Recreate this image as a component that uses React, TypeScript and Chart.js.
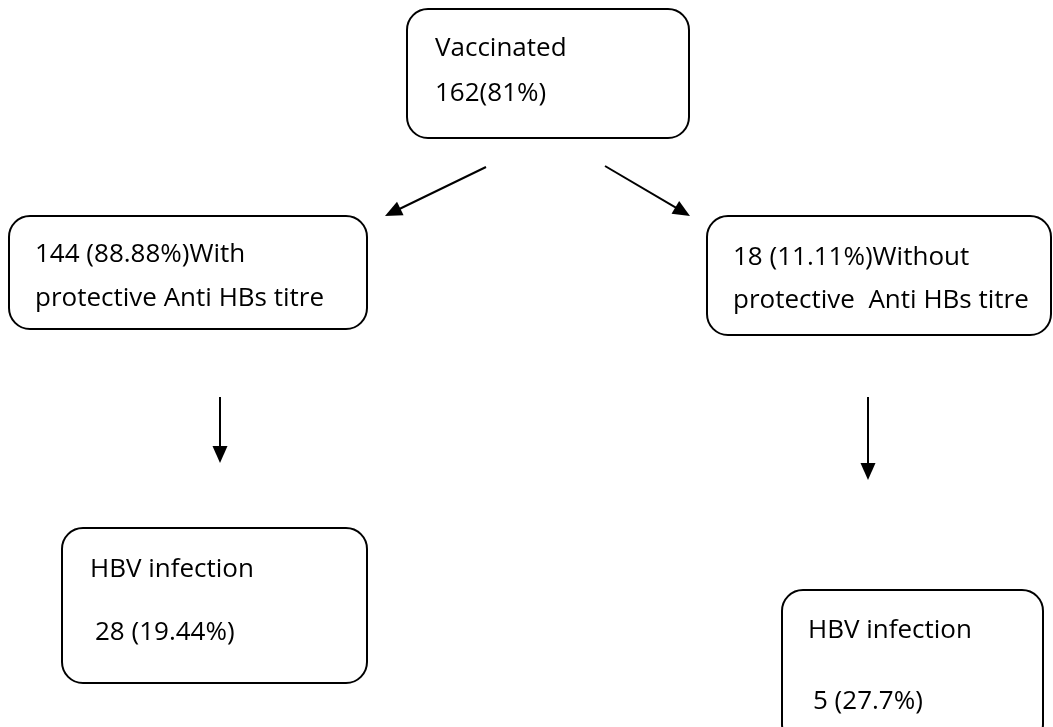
import React, { useEffect, useRef } from "react";
import { Chart, registerables } from "chart.js";

Chart.register(...registerables);

// Flowchart nodes (coordinates in the chart's own x/y units)
const nodeNames = ["vaccinated", "with", "without", "hbvWith", "hbvWithout"];
const nodeLeft = [407, 9, 707, 62, 782];
const nodeTop = [9, 216, 216, 528, 590];
const nodeRight = [689, 367, 1051, 367, 1043];
const nodeBottom = [138, 329, 335, 683, 745];

// Text lines: [x, baseline y, text]
const labelX = [435, 435, 35, 35, 733, 733, 90, 95, 808, 813];
const labelY = [56, 101, 262, 306, 265, 308, 577, 640, 638, 709];
const labelText = [
  "Vaccinated",
  "162(81%)",
  "144 (88.88%)With",
  "protective Anti HBs titre",
  "18 (11.11%)Without",
  "protective  Anti HBs titre",
  "HBV infection",
  "28 (19.44%)",
  "HBV infection",
  "5 (27.7%)",
];

// Arrows: from (x0,y0) to tip (x1,y1)
const arrowX0 = [486, 605, 220, 868];
const arrowY0 = [167, 166, 397, 397];
const arrowX1 = [385, 690, 220, 868];
const arrowY1 = [216, 216, 463, 480];

const FONT = "26px 'Open Sans', 'Noto Sans', sans-serif";

const flowPlugin = {
  id: "flow",
  afterDatasetsDraw(chart: any) {
    const ctx = chart.ctx;
    const xs = chart.scales.x;
    const ys = chart.scales.y;
    ctx.save();
    // boxes
    ctx.strokeStyle = "#000";
    ctx.lineWidth = 2;
    for (let i = 0; i < nodeNames.length; i++) {
      const l = xs.getPixelForValue(nodeLeft[i]);
      const r = xs.getPixelForValue(nodeRight[i]);
      const t = ys.getPixelForValue(nodeTop[i]);
      const b = ys.getPixelForValue(nodeBottom[i]);
      ctx.beginPath();
      ctx.roundRect(l, t, r - l, b - t, 21);
      ctx.stroke();
    }
    // text
    ctx.fillStyle = "#000";
    ctx.font = FONT;
    ctx.textBaseline = "alphabetic";
    ctx.textAlign = "left";
    for (let i = 0; i < labelText.length; i++) {
      ctx.fillText(labelText[i], xs.getPixelForValue(labelX[i]), ys.getPixelForValue(labelY[i]));
    }
    // arrowheads
    for (let i = 0; i < arrowX0.length; i++) {
      const x0 = xs.getPixelForValue(arrowX0[i]);
      const y0 = ys.getPixelForValue(arrowY0[i]);
      const x1 = xs.getPixelForValue(arrowX1[i]);
      const y1 = ys.getPixelForValue(arrowY1[i]);
      const ang = Math.atan2(y1 - y0, x1 - x0);
      const len = 17;
      const half = 7.5;
      const bx = x1 - len * Math.cos(ang);
      const by = y1 - len * Math.sin(ang);
      ctx.beginPath();
      ctx.moveTo(x1, y1);
      ctx.lineTo(bx + half * Math.sin(ang), by - half * Math.cos(ang));
      ctx.lineTo(bx - half * Math.sin(ang), by + half * Math.cos(ang));
      ctx.closePath();
      ctx.fill();
    }
    ctx.restore();
  },
};

export default function App() {
  const ref = useRef<HTMLCanvasElement | null>(null);
  useEffect(() => {
    if (!ref.current) return;
    const datasets = arrowX0.map((_, i) => {
      // shaft stops at arrowhead base
      const dx = arrowX1[i] - arrowX0[i];
      const dy = arrowY1[i] - arrowY0[i];
      const d = Math.hypot(dx, dy);
      const k = (d - 12) / d;
      return {
        data: [
          { x: arrowX0[i], y: arrowY0[i] },
          { x: arrowX0[i] + dx * k, y: arrowY0[i] + dy * k },
        ],
        showLine: true,
        borderColor: "#000",
        borderWidth: 2,
        pointRadius: 0,
        fill: false,
      };
    });
    const chart = new Chart(ref.current, {
      type: "scatter",
      data: { datasets },
      options: {
        animation: false,
        responsive: true,
        maintainAspectRatio: false,
        layout: { padding: 0 },
        plugins: { legend: { display: false }, tooltip: { enabled: false } },
        events: [],
        scales: {
          x: { type: "linear", min: 0, max: 1053, display: false },
          y: { type: "linear", min: 0, max: 727, reverse: true, display: false },
        },
      },
      plugins: [flowPlugin],
    });
    return () => chart.destroy();
  }, []);
  return (
    <div style={{ position: "absolute", left: 0, top: 0, width: 1053, height: 727, background: "#fff" }}>
      <canvas ref={ref} />
    </div>
  );
}
